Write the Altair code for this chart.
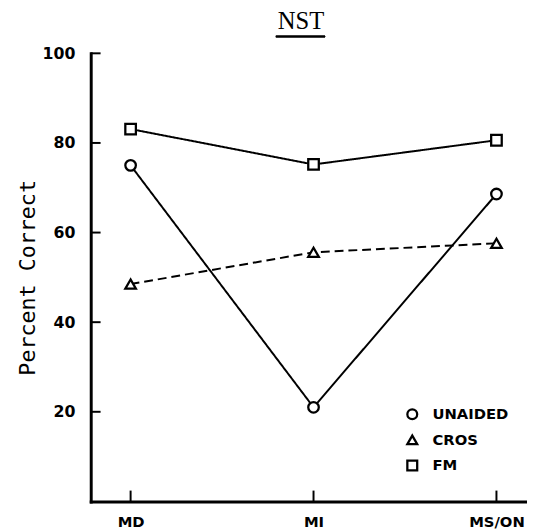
import altair as alt
import pandas as pd

sites = ["MD", "MI", "MS/ON"]
unaided = [75, 21, 68.6]
cros = [48.5, 55.6, 57.6]
fm = [83.1, 75.2, 80.6]
series_names = ["UNAIDED", "CROS", "FM"]
y_ticks = [20, 40, 60, 80, 100]

rows = []
for name, vals in zip(series_names, [unaided, cros, fm]):
    for i, (s, v) in enumerate(zip(sites, vals)):
        rows.append({"site": s, "idx": i, "series": name,
                     "style": name + "_line", "bg": name + "_bg", "value": v})
df = pd.DataFrame(rows)
tick_df = pd.DataFrame({"t": y_ticks})
xt_df = pd.DataFrame({"idx": list(range(len(sites)))})

W, H = 443, 455
shapes = ["circle", "triangle-up", "square"]
xscale = alt.Scale(domain=[-0.218, 2.167], nice=False, zero=False)
yscale = alt.Scale(domain=[0, 100], nice=False)
label_expr = "[" + ",".join("'%s'" % s for s in sites) + "][datum.value]"

x_enc = alt.X("idx:Q", scale=xscale,
              axis=alt.Axis(values=list(range(len(sites))), labelExpr=label_expr,
                            title=None, grid=False, ticks=False, domainWidth=3,
                            domainColor="black", labelFont="DejaVu Sans",
                            labelFontWeight="bold", labelFontSize=15,
                            labelColor="black", labelPadding=13))
y_enc = alt.Y("value:Q", scale=yscale,
              axis=alt.Axis(values=y_ticks, title="Percent Correct", grid=False,
                            ticks=False, domainWidth=3, domainColor="black",
                            labelFont="DejaVu Sans", labelFontWeight="bold",
                            labelFontSize=16, labelColor="black", labelPadding=16,
                            titleFont="DejaVu Sans Mono", titleFontSize=22,
                            titleFontWeight="normal", titleColor="black",
                            titleX=-64, titleY=H / 2, titleAngle=-90,
                            titleBaseline="middle", titleAlign="center"))

lines = alt.Chart(df).mark_line(color="black", strokeWidth=2).encode(
    x=x_enc, y=y_enc,
    detail="series:N",
    strokeDash=alt.StrokeDash("style:N", scale=alt.Scale(
        domain=[n + "_line" for n in series_names],
        range=[[1, 0], [9, 5], [1, 0]]), legend=None),
)

points_bg = alt.Chart(df).mark_point(filled=True, color="white", opacity=1,
                                     size=140).encode(
    x="idx:Q", y="value:Q",
    shape=alt.Shape("bg:N", scale=alt.Scale(
        domain=[n + "_bg" for n in series_names], range=shapes), legend=None),
)

points = alt.Chart(df).mark_point(filled=False, color="black", strokeWidth=2.3,
                                  opacity=1, size=115).encode(
    x="idx:Q", y="value:Q",
    shape=alt.Shape("series:N", scale=alt.Scale(
        domain=series_names, range=shapes),
        legend=alt.Legend(title=None, orient="none", legendX=319, legendY=359,
                          labelFont="DejaVu Sans", labelFontWeight="bold",
                          labelFontSize=15, labelColor="black",
                          symbolStrokeColor="black", symbolStrokeWidth=2.3,
                          symbolSize=100, rowPadding=6, labelOffset=13)),
)

yticks = alt.Chart(tick_df).mark_rule(color="black", strokeWidth=2).encode(
    y="t:Q", x=alt.value(0), x2=alt.value(10))
xticks = alt.Chart(xt_df).mark_rule(color="black", strokeWidth=2).encode(
    x="idx:Q", y=alt.value(H), y2=alt.value(H - 11))
underline = alt.Chart(tick_df).mark_rule(color="black", strokeWidth=1.5).encode(
    x=alt.value(188), x2=alt.value(238), y=alt.value(-17))

chart = alt.layer(lines, points_bg, points, yticks, xticks, underline).properties(
    width=W, height=H,
    title=alt.Title("NST", font="Liberation Serif", fontSize=25,
                    fontWeight="normal", color="black", anchor="middle",
                    dx=-8, offset=2),
    autosize=alt.AutoSizeParams(type="none"),
    padding={"left": 84, "top": 42, "right": 0, "bottom": 25},
).resolve_scale(shape="independent", strokeDash="independent").resolve_legend(
    shape="independent", strokeDash="independent"
).configure_view(stroke=None).configure_axis(domainCap="square")

chart.save("out.html", embed_options={"renderer": "svg", "actions": False})
